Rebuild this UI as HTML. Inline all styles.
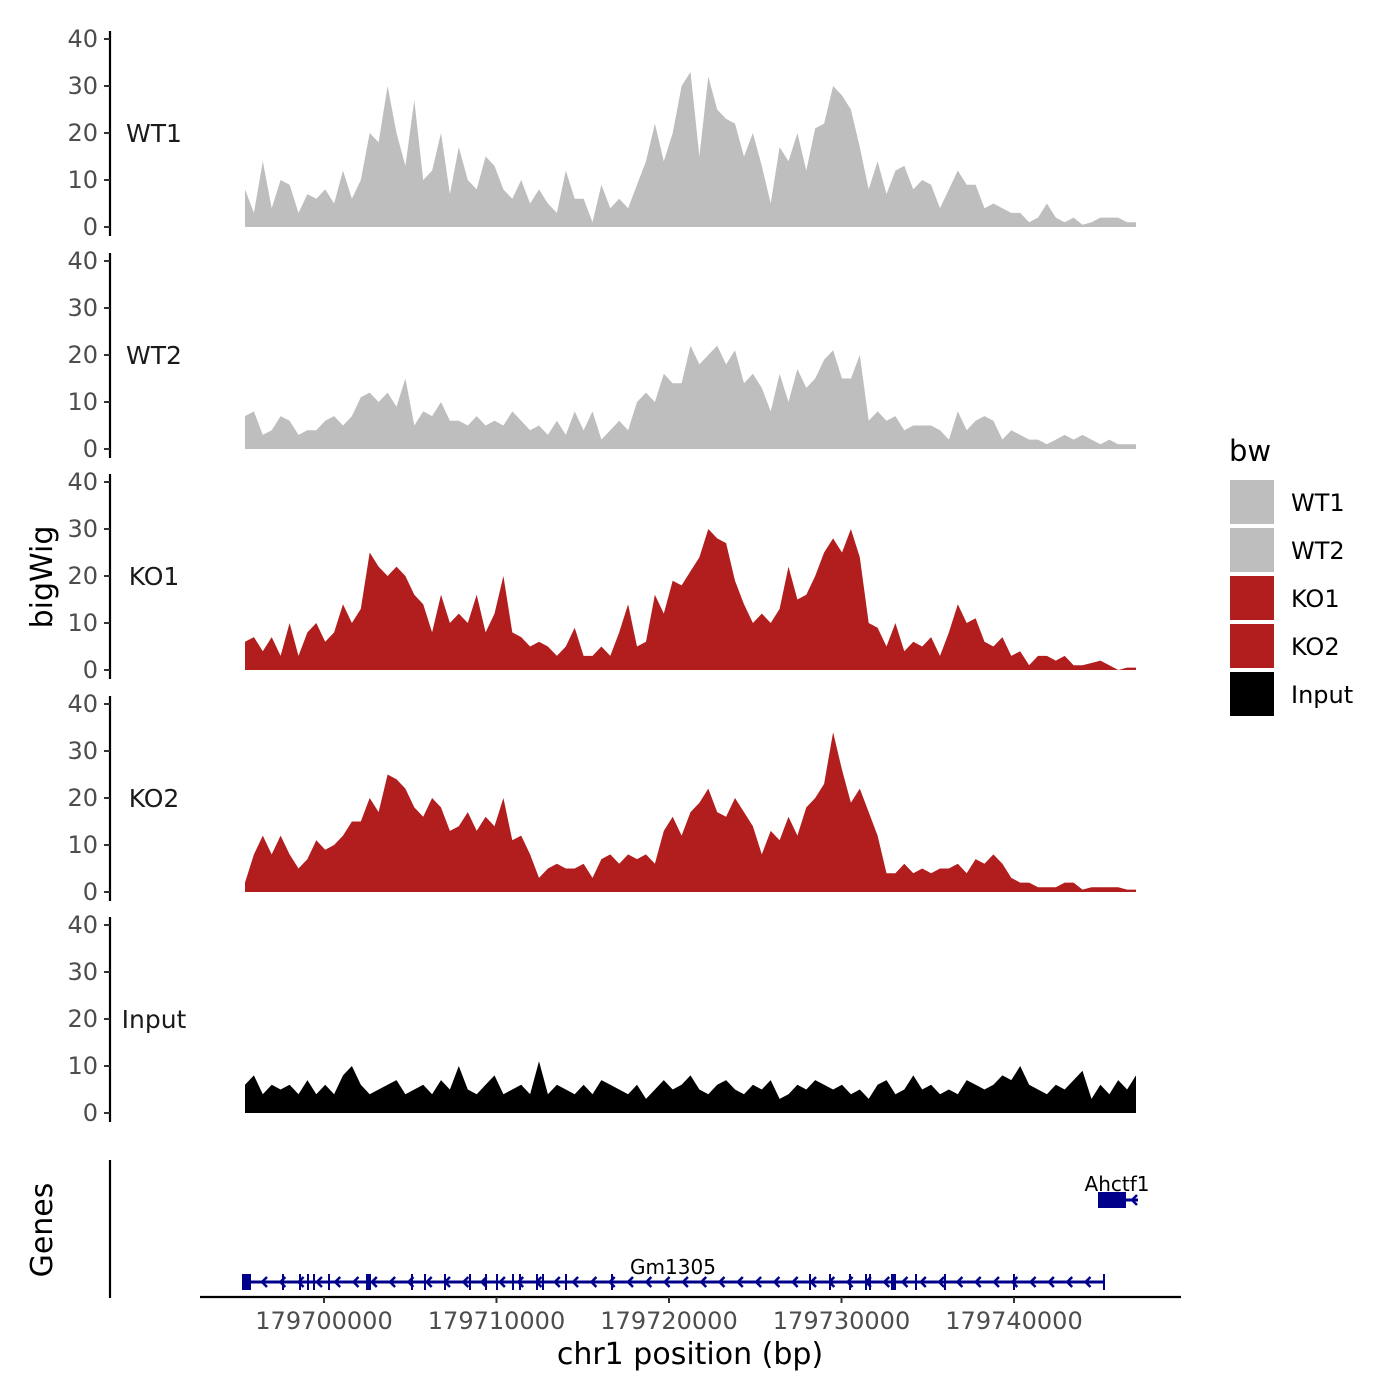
<!DOCTYPE html>
<html><head><meta charset="utf-8"><style>
html,body{margin:0;padding:0;background:#fff}
svg{display:block;font-family:"DejaVu Sans","Liberation Sans",sans-serif}
</style></head><body>
<svg id="chart" width="1400" height="1400" viewBox="0 0 1400 1400"></svg>
<script>
const trackNames = ["WT1","WT2","KO1","KO2","Input"];
const trackColors = ["#bebebe","#bebebe","#b21e1e","#b21e1e","#000000"];
const yTicks = [0,10,20,30,40];
const xTicks = [179700000,179710000,179720000,179730000,179740000];
const startBp = 179695420, endBp = 179747072;
const wt1 = [8,3,14,4,10,9,3,7,6,8,5,12,6,10,20,18,30,20,13,27,10,12,20,7,17,10,8,15,13,8,6,10,5,8,5,3,12,6,6,1,9,4,6,4,9,14,22,14,20,30,33,15,32,25,23,22,15,20,13,5,17,14,20,12,21,22,30,28,25,17,8,14,7,12,13,8,10,9,4,8,12,9,9,4,5,4,3,3,1,2,5,2,1,2,0.5,1,2,2,2,1,1];
const wt2 = [7,8,3,4,7,6,3,4,4,6,7,5,7,11,12,10,12,9,15,5,8,7,10,6,6,5,7,5,6,5,8,6,4,5,3,6,3,8,4,8,2,4,6,4,10,12,10,16,14,14,22,18,20,22,18,21,14,16,13,8,16,10,17,13,15,19,21,15,15,20,6,8,6,7,4,5,5,5,4,2,8,4,6,7,6,2,4,3,2,2,1,2,3,2,3,2,1,2,1,1,1];
const ko1 = [6,7,4,7,3,10,3,8,10,6,8,14,10,13,25,22,20,22,20,16,14,8,16,10,12,10,16,8,12,20,8,7,5,6,5,3,5,9,3,3,5,3,8,14,5,6,16,12,19,18,21,24,30,28,27,19,14,10,12,10,13,22,15,16,20,25,28,25,30,24,10,9,5,10,4,6,5,7,3,8,14,10,11,6,5,7,3,4,1,3,3,2,3,1,1,1.5,2,1,0,0.5,0.5];
const ko2 = [2,8,12,8,12,8,5,7,11,9,10,12,15,15,20,17,25,24,22,18,16,20,18,13,14,17,13,16,14,20,11,12,8,3,5,6,5,5,6,3,7,8,6,8,7,8,6,13,16,12,17,19,22,17,16,20,17,14,8,13,11,16,12,18,20,23,34,26,19,22,17,12,4,4,6,4,5,4,5,5,6,4,7,6,8,6,3,2,2,1,1,1,2,2,0.5,1,1,1,1,0.5,0.5];
const inputVals = [6,8,4,6,5,6,4,7,4,6,4,8,10,6,4,5,6,7,4,5,6,4,7,5,10,5,4,6,8,4,5,6,4,11,4,6,5,4,6,4,7,6,5,4,6,3,5,7,5,6,8,5,4,6,7,5,4,6,5,7,3,4,6,5,7,6,5,6,4,5,3,6,7,4,5,8,5,6,4,5,4,7,6,5,6,8,7,10,6,5,4,6,5,7,9,3,6,4,7,5,8];
const seriesList = [wt1,wt2,ko1,ko2,inputVals];

const NS="http://www.w3.org/2000/svg";
const svg=document.getElementById("chart");
function mk(tag,attrs,parent){const e=document.createElementNS(NS,tag);for(const k in attrs)e.setAttribute(k,attrs[k]);(parent||svg).appendChild(e);return e;}
const px0=245, px1=1136;
function xBp(bp){return 324+(bp-179700000)/10000*172.5;}
const zeroY=[227,449,670,892,1113], ppu=4.7;

trackNames.forEach((nm,t)=>{
  const g=mk("g",{});
  
  
  const y=v=>zeroY[t]-v*ppu;
  const vals=seriesList[t];
  const n=vals.length;
  const xi=i=>px0+(px1-px0)*i/(n-1);
  let d="M"+px0+","+zeroY[t];
  vals.forEach((v,i)=>{d+=" L"+xi(i).toFixed(1)+","+y(v).toFixed(1);});
  d+=" L"+px1+","+zeroY[t]+" Z";
  const a=mk("path",{d:d,fill:trackColors[t]},g);
  
  
  const ax=mk("line",{x1:110,x2:110,y1:y(40)-8,y2:zeroY[t]+9,stroke:"#000","stroke-width":2.2},g);
  
  
  yTicks.forEach(tv=>{
    mk("line",{x1:104,x2:110,y1:y(tv),y2:y(tv),stroke:"#333","stroke-width":2},g);
    const tl=mk("text",{x:98,y:y(tv)+8,"text-anchor":"end","font-size":24,fill:"#4d4d4d"},g);
    tl.textContent=tv;
    
    
  });
  const lab=mk("text",{x:154,y:zeroY[t]-94+9,"text-anchor":"middle","font-size":25,fill:"#1a1a1a"},g);
  lab.textContent=nm;
  
  
});

const yt=mk("text",{transform:"translate(52,577) rotate(-90)","text-anchor":"middle","font-size":30,fill:"#000"});
yt.textContent="bigWig";


const gt=mk("text",{transform:"translate(52,1230) rotate(-90)","text-anchor":"middle","font-size":30,fill:"#000"});
gt.textContent="Genes";



const gy=mk("line",{x1:110,x2:110,y1:1160,y2:1298,stroke:"#000","stroke-width":2.2});


const gx=mk("line",{x1:200,x2:1181,y1:1297,y2:1297,stroke:"#000","stroke-width":2.2});


xTicks.forEach(bp=>{
  const x=xBp(bp);
  mk("line",{x1:x,x2:x,y1:1297,y2:1303,stroke:"#333","stroke-width":2});
  const tl=mk("text",{x:x,y:1329,"text-anchor":"middle","font-size":24,fill:"#4d4d4d"});
  tl.textContent=bp;
  
  
});
const xt=mk("text",{x:690,y:1364,"text-anchor":"middle","font-size":30,fill:"#000"});
xt.textContent="chr1 position (bp)";



const blue="#00008b";
const gm=mk("g",{});


mk("line",{x1:245,x2:1104,y1:1282,y2:1282,stroke:blue,"stroke-width":3},gm);
mk("rect",{x:242,y:1274,width:9,height:16,fill:blue},gm);
mk("rect",{x:366,y:1274,width:5,height:16,fill:blue},gm);
mk("rect",{x:891,y:1274,width:5,height:16,fill:blue},gm);
[283,300,308,314,329,412,425,445,470,486,497,513,520,537,543,566,612,810,830,850,866,870,916,945,1014,1104].forEach(x=>{
  mk("line",{x1:x,x2:x,y1:1274,y2:1290,stroke:blue,"stroke-width":2},gm);
});
for(let x=262;x<1100;x+=18.3){
  mk("path",{d:`M${x+5},${1277} L${x},${1282} L${x+5},${1287}`,fill:"none",stroke:blue,"stroke-width":2.5},gm);
}
const gml=mk("text",{x:673,y:1274,"text-anchor":"middle","font-size":20,fill:"#000"});
gml.textContent="Gm1305";


const ah=mk("g",{});


mk("line",{x1:1098,x2:1138,y1:1200,y2:1200,stroke:blue,"stroke-width":3},ah);
mk("rect",{x:1098,y:1192,width:28,height:16,fill:blue},ah);
mk("path",{d:"M1137,1195 L1132,1200 L1137,1205",fill:"none",stroke:blue,"stroke-width":2.5},ah);
const ahl=mk("text",{x:1117,y:1191,"text-anchor":"middle","font-size":20,fill:"#000"});
ahl.textContent="Ahctf1";



const lt=mk("text",{x:1229,y:461,"font-size":29,fill:"#000"});
lt.textContent="bw";


trackNames.forEach((nm,i)=>{
  const g=mk("g",{});
  
  
  mk("rect",{x:1230,y:480+i*48,width:44,height:44,fill:trackColors[i]},g);
  const t=mk("text",{x:1291,y:511+i*48,"font-size":24,fill:"#000"},g);
  t.textContent=nm;
});
</script>
</body></html>
